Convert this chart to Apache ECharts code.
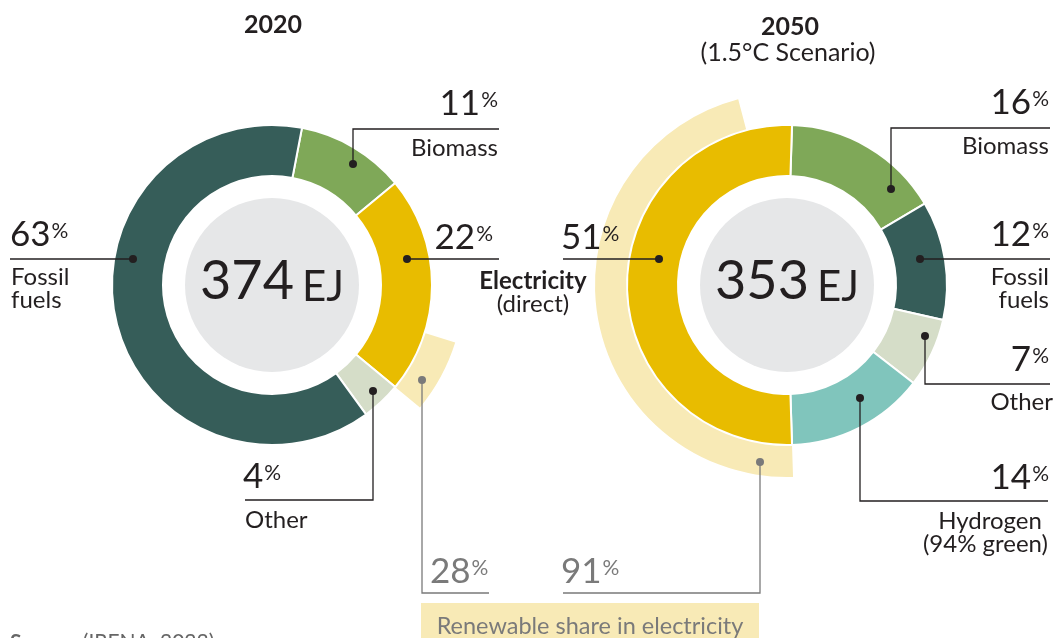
<!DOCTYPE html>
<html>
<head>
<meta charset="utf-8">
<script src="https://cdn.jsdelivr.net/npm/echarts@6/dist/echarts.min.js"></script>
<style>
  html, body { margin: 0; padding: 0; background: #fff; }
  #chart { width: 1055px; height: 638px; }
</style>
</head>
<body>
<div id="chart"></div>
<script>
// final energy mix, 2020 vs 2050 (1.5°C scenario)
const categories2020 = ['Biomass', 'Electricity', 'Other', 'Fossil fuels'];
const shares2020 = [11, 22, 4, 63];
const categories2050 = ['Biomass', 'Fossil fuels', 'Other', 'Hydrogen', 'Electricity'];
const shares2050 = [16, 12, 7, 14, 51];
const totalsEJ = [374, 353];
const renewableShare = [28, 91]; // % of electricity that is renewable

const colors = {
  'Biomass': '#7fa858',
  'Electricity': '#e8bc00',
  'Other': '#d5ddc8',
  'Fossil fuels': '#365d59',
  'Hydrogen': '#80c5bc'
};
const lightYellow = '#f8eab6';
const ink = '#231f20';
const grey = '#7a7a7a';
const font = 'Lato';

var myChart = echarts.init(document.getElementById('chart'));

// ring data
function ring(cats, vals) {
  return cats.map(function (c, i) {
    return { name: c, value: vals[i], itemStyle: { color: colors[c] } };
  });
}
var hidden = { color: 'rgba(0,0,0,0)', borderWidth: 0 };
// 2020: renewable part sits at the end of the electricity slice
var e20 = shares2020[1];
var renew2020 = [
  { value: shares2020[0], itemStyle: hidden },
  { value: e20 * (1 - renewableShare[0] / 100), itemStyle: hidden },
  { value: e20 * renewableShare[0] / 100, itemStyle: { color: lightYellow } },
  { value: shares2020[2] + shares2020[3], itemStyle: hidden }
];
// 2050: renewable part starts at the start of the electricity slice
var e50 = shares2050[4];
var renew2050 = [
  { value: shares2050[0] + shares2050[1] + shares2050[2] + shares2050[3], itemStyle: hidden },
  { value: e50 * renewableShare[1] / 100, itemStyle: { color: lightYellow } },
  { value: e50 * (1 - renewableShare[1] / 100), itemStyle: hidden }
];

// electricity slice is centred on 3 o'clock (2020) and 9 o'clock (2050)
var start2020 = (shares2020[0] + e20 / 2) * 3.6;
var start2050 = 90 + (shares2050[0] + shares2050[1] + shares2050[2] + shares2050[3] + e50 / 2) * 3.6 - 270;

var c1 = [272, 285];
var c2 = [787, 285];

function pie(center, radius, data, startAngle, border) {
  return {
    type: 'pie',
    center: center,
    radius: radius,
    startAngle: startAngle,
    clockwise: true,
    silent: true,
    animation: false,
    label: { show: false },
    labelLine: { show: false },
    emphasis: { disabled: true },
    itemStyle: border ? { borderColor: '#fff', borderWidth: 2 } : {},
    data: data
  };
}

// leader lines and labels
var g = [];
function line(pts, col) {
  g.push({ type: 'polyline', shape: { points: pts }, style: { stroke: col || ink, lineWidth: 1.3, fill: null }, z: 10 });
  g.push({ type: 'circle', shape: { cx: pts[0][0], cy: pts[0][1], r: 4 }, style: { fill: col || ink }, z: 11 });
}
function pct(val, x, y, align, col) {
  g.push({
    type: 'text', x: x, y: y, z: 12,
    style: {
      text: '{n|' + val + '}{p|%}', align: align, verticalAlign: 'middle',
      rich: {
        n: { fontFamily: font, fontSize: 35, fill: col || ink },
        p: { fontFamily: font, fontSize: 21, fill: col || ink, verticalAlign: 'middle', padding: [0, 0, 8, 1] }
      }
    }
  });
}
function label(txt, x, y, align, opts) {
  opts = opts || {};
  g.push({
    type: 'text', x: x, y: y, z: 12,
    style: {
      text: txt, align: align, verticalAlign: 'middle',
      fontFamily: font, fontSize: opts.size || 24, fontWeight: opts.weight || 'normal',
      lineHeight: 23, fill: opts.color || ink
    }
  });
}
function centre(total, c) {
  g.push({
    type: 'text', x: c[0], y: c[1] - 3, z: 12,
    style: {
      text: '{a|' + total + '}{b|EJ}', align: 'center', verticalAlign: 'middle',
      rich: {
        a: { fontFamily: font, fontSize: 54, fill: ink },
        b: { fontFamily: font, fontSize: 42, fill: ink, verticalAlign: 'bottom', padding: [0, 0, 1, 8] }
      }
    }
  });
}

// titles
label('2020', 273, 25, 'center', { weight: 'bold', size: 25 });
label('2050', 790, 27, 'center', { weight: 'bold', size: 25 });
label('(1.5°C Scenario)', 788, 53, 'center', { size: 25 });

centre(totalsEJ[0], c1);
centre(totalsEJ[1], c2);

// 2020 annotations
line([[353, 164], [353, 129], [499, 129]]);
pct(shares2020[0], 498, 104, 'right');
label('Biomass', 498, 148, 'right');
line([[407, 259], [499, 259]]);
pct(shares2020[1], 493, 238, 'right');
line([[133, 259], [10, 259]]);
pct(shares2020[3], 10, 235, 'left');
label('Fossil\nfuels', 11, 289, 'left');
line([[373, 391], [373, 500], [245, 500]]);
pct(shares2020[2], 243, 477, 'left');
label('Other', 245, 520, 'left');
line([[422, 380], [422, 593], [489, 593]], grey);
pct(renewableShare[0], 430, 572, 'left', grey);

// 2050 annotations
line([[891, 189], [891, 128], [1050, 128]]);
pct(shares2050[0], 1049, 103, 'right');
label('Biomass', 1049, 146, 'right');
line([[920, 259], [1050, 259]]);
pct(shares2050[1], 1049, 235, 'right');
label('Fossil\nfuels', 1049, 289, 'right');
line([[925, 336], [925, 384], [1050, 384]]);
pct(shares2050[2], 1049, 360, 'right');
label('Other', 1053, 402, 'right');
line([[860, 398], [860, 501], [1048, 501]]);
pct(shares2050[3], 1049, 478, 'right');
label('Hydrogen \n(94% green)', 1048, 533, 'right');
line([[659, 259], [563, 259]]);
pct(shares2050[4], 561, 238, 'left');
label('Electricity', 533, 281, 'center', { weight: 'bold' });
label('(direct)', 533, 304, 'center');
line([[760, 462], [760, 593], [563, 593]], grey);
pct(renewableShare[1], 561, 572, 'left', grey);

// legend box for the light arcs
g.push({ type: 'rect', shape: { x: 421, y: 603, width: 338, height: 40 }, style: { fill: lightYellow }, z: 5 });
label('Renewable share in electricity', 590, 626, 'center', { color: grey, size: 23.5 });

// source note (cut off at the bottom edge)
g.push({
  type: 'text', x: 10, y: 642, z: 12,
  style: {
    text: '{b|Source:} {r|(IRENA, 2023)}', align: 'left', verticalAlign: 'middle',
    rich: {
      b: { fontFamily: font, fontSize: 21, fontWeight: 'bold', fill: '#666' },
      r: { fontFamily: font, fontSize: 21, fill: '#666' }
    }
  }
});

var option = {
  animation: false,
  series: [
    pie(c1, [0, 87], [{ value: 1, itemStyle: { color: '#e6e7e8' } }], 90, false),
    pie(c1, [109, 160], ring(categories2020, shares2020), start2020, true),
    pie(c1, [161, 192], renew2020, start2020, false),
    pie(c2, [0, 87], [{ value: 1, itemStyle: { color: '#e6e7e8' } }], 90, false),
    pie(c2, [109, 160], ring(categories2050, shares2050), start2050, true),
    pie(c2, [161, 192], renew2050, start2050, false)
  ],
  graphic: { elements: g }
};

myChart.setOption(option);
</script>
</body>
</html>
